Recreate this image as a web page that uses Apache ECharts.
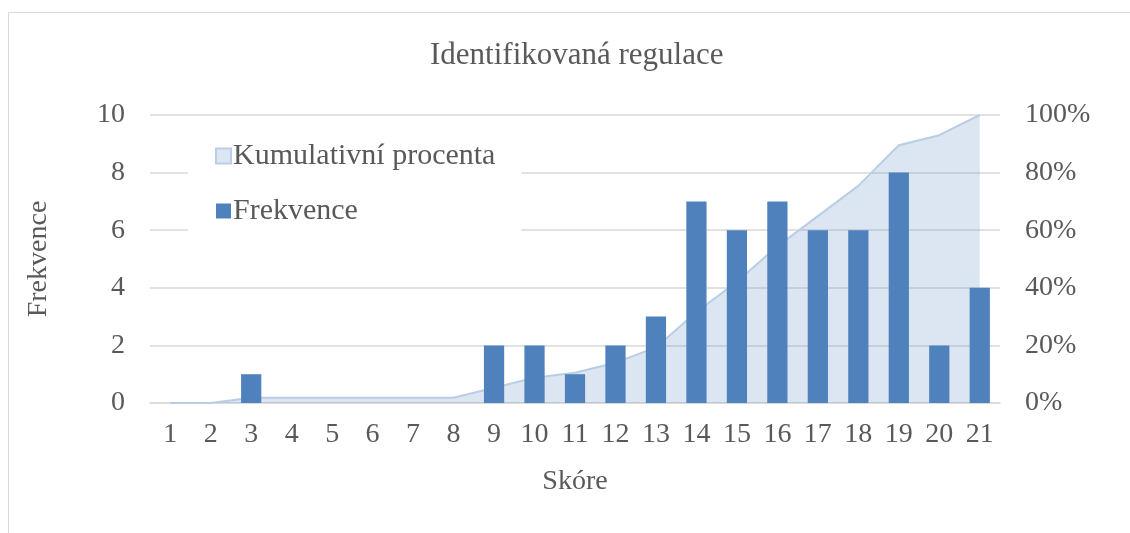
<!DOCTYPE html>
<html>
<head>
<meta charset="utf-8">
<script src="https://cdn.jsdelivr.net/npm/echarts@6/dist/echarts.min.js"></script>
<style>
  html, body { margin: 0; padding: 0; background: #fff; }
  #chart { width: 1130px; height: 533px; }
</style>
</head>
<body>
<div id="chart"></div>
<script>
// data
var scores = ['1','2','3','4','5','6','7','8','9','10','11','12','13','14','15','16','17','18','19','20','21'];
var frekvence = [0,0,1,0,0,0,0,0,2,2,1,2,3,7,6,7,6,6,8,2,4];
var kumulativni = [0,0,1.8,1.8,1.8,1.8,1.8,1.8,5.3,8.8,10.5,14.0,19.3,31.6,42.1,54.4,64.9,75.4,89.5,93.0,100];

var font = '"Liberation Serif", "Times New Roman", serif';
var txt = '#595959';

var chart = echarts.init(document.getElementById('chart'));
var option = {
  animation: false,
  textStyle: { fontFamily: font },
  title: {
    text: 'Identifikovaná regulace',
    left: 425,
    top: 35,
    textStyle: { fontFamily: font, fontSize: 31, fontWeight: 'normal', color: txt }
  },
  graphic: [{
    type: 'rect',
    shape: { x: 8.5, y: 12.5, width: 1200, height: 600 },
    style: { fill: 'none', stroke: '#D9D9D9', lineWidth: 1 },
    silent: true
  }],
  legend: {
    orient: 'vertical',
    left: 188,
    top: 135,
    padding: [6, 26, 12, 27],
    itemGap: 25,
    itemWidth: 15,
    itemHeight: 15,
    backgroundColor: '#fff',
    data: [
      { name: 'Kumulativní procenta', icon: 'rect' },
      { name: 'Frekvence', icon: 'rect' }
    ],
    textStyle: { fontFamily: font, fontSize: 30, color: txt, padding: [0, 0, 0, -3] }
  },
  grid: { left: 150, right: 130, top: 115, bottom: 130 },
  xAxis: {
    type: 'category',
    data: scores,
    name: 'Skóre',
    nameLocation: 'middle',
    nameGap: 65,
    nameTextStyle: { fontFamily: font, fontSize: 28, color: txt },
    axisLine: { lineStyle: { color: '#D9D9D9', width: 1.5 } },
    axisTick: { show: false },
    axisLabel: { fontFamily: font, fontSize: 28, color: txt, margin: 18, interval: 0 }
  },
  yAxis: [{
    type: 'value',
    min: 0, max: 10, interval: 2,
    name: 'Frekvence',
    nameLocation: 'middle',
    nameGap: 97,
    nameTextStyle: { fontFamily: font, fontSize: 28, color: txt },
    axisLine: { show: false },
    axisTick: { show: false },
    axisLabel: { fontFamily: font, fontSize: 28, color: txt, margin: 25 },
    splitLine: { lineStyle: { color: '#D9D9D9', width: 1.5 } }
  }, {
    type: 'value',
    min: 0, max: 100, interval: 20,
    position: 'right',
    axisLine: { show: false },
    axisTick: { show: false },
    axisLabel: { fontFamily: font, fontSize: 28, color: txt, margin: 25, formatter: '{value}%' },
    splitLine: { show: false }
  }],
  series: [{
    name: 'Kumulativní procenta',
    type: 'line',
    yAxisIndex: 1,
    data: kumulativni,
    symbol: 'none',
    z: 1,
    lineStyle: { color: '#B9CDE5', width: 2 },
    itemStyle: { color: '#DCE6F2', borderColor: '#B9CDE5', borderWidth: 2 },
    areaStyle: { color: 'rgba(79,129,189,0.2)', opacity: 1, origin: 'start' }
  }, {
    name: 'Frekvence',
    type: 'bar',
    data: frekvence,
    barWidth: '50%',
    z: 2,
    itemStyle: { color: '#4F81BD' }
  }]
};
chart.setOption(option);
</script>
</body>
</html>
